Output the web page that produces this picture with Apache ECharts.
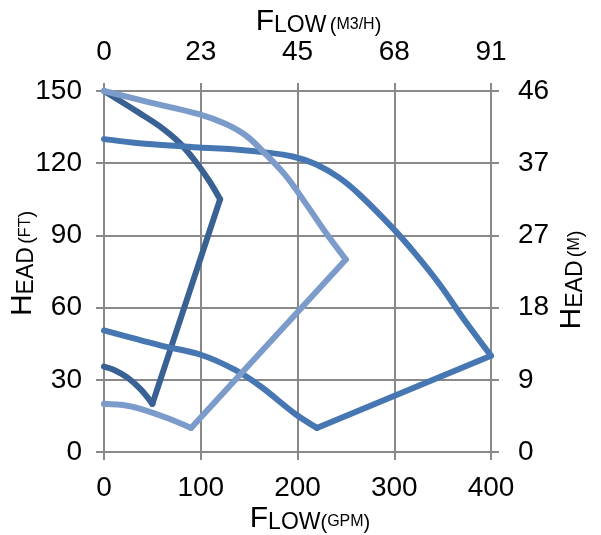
<!DOCTYPE html>
<html><head><meta charset="utf-8">
<script src="https://cdn.jsdelivr.net/npm/echarts@6/dist/echarts.min.js"></script>
<style>html,body{margin:0;padding:0;background:#fff}#c{width:601px;height:535px}</style>
</head><body><div id="c"></div>
<script>
// Tick labels
const gpmTicks = ['0', '100', '200', '300', '400'];
const m3hTicks = ['0', '23', '45', '68', '91'];
const ftTicks = ['0', '30', '60', '90', '120', '150'];
const mTicks = ['0', '9', '18', '27', '37', '46'];

// Pump 1 (dark)
const darkUpper = [[0,150],[36,141],[57,135.5],[78,128.5],[95,120.5],[109,112.5],[120,105]];
const darkConnector = [[120,105],[50,20]];
const darkLower = [[50,20],[38,26],[24,31],[10,34.2],[0,35.5]];

// Pump 2 (medium)
const medUpper = [[0,130],[29,128.6],[64,127.5],[98,126.5],[133,125.8],[167,124.5],[195,122.8],[219,119.6],[243,114],[264,107],[298.5,93],[322.5,82],[347,69.6],[371,55.7],[400,40]];
const medConnector = [[400,40],[220,10]];
const medLower = [[220,10],[197,16],[162,27.2],[135,34.2],[100,40.4],[59,44.2],[0,50.5]];

// Pump 3 (light)
const lightUpper = [[0,150],[47,145.3],[98,140.4],[126,136.3],[147,131.4],[167,123.8],[188,114.7],[209,103],[229.5,91],[250,80]];
const lightConnector = [[250,80],[90,10]];
const lightLower = [[90,10],[66,14],[41,17.5],[24,19.2],[0,20]];

const FONT = '"Liberation Sans", Arial, sans-serif';
const GRID = '#898989';
const DARK = '#3A6194', MED = '#4677B3', LIGHT = '#7B9BCB';

const rich = {
  b: {fontSize: 30, lineHeight: 30, verticalAlign: 'bottom', fontFamily: FONT, color: '#000'},
  s: {fontSize: 23, verticalAlign: 'bottom', fontFamily: FONT, color: '#000'},
  p: {fontSize: 20, verticalAlign: 'bottom', fontFamily: FONT, color: '#000', padding: [0, 0, 1, 0]},
  t: {fontSize: 16, verticalAlign: 'bottom', fontFamily: FONT, color: '#000', padding: [0, 0, 4, 0]}
};

function axisBase(extra) {
  return Object.assign({
    type: 'value',
    axisLine: {show: true, onZero: false, lineStyle: {color: GRID, width: 2}},
    axisTick: {show: true, length: 8, lineStyle: {color: GRID, width: 2}},
    splitLine: {show: false},
    nameLocation: 'middle',
    nameMoveOverlap: false
  }, extra);
}
function labelStyle(arr, step, margin) {
  return {
    margin: margin, fontSize: 28, color: '#000', fontFamily: FONT,
    showMinLabel: true, showMaxLabel: true,
    formatter: v => arr[Math.round(v / step)]
  };
}

function seg(data, color, smooth) {
  return {
    type: 'line', data: data, smooth: smooth ? 0.35 : false,
    symbol: 'none', silent: true, animation: false,
    lineStyle: {color: color, width: 6, cap: 'round', join: 'round'}
  };
}

const chart = echarts.init(document.getElementById('c'), null, {renderer: 'canvas'});
chart.setOption({
  backgroundColor: '#fff',
  animation: false,
  grid: {left: 104, right: 110, top: 91, bottom: 83, containLabel: false, outerBoundsMode: 'none'},
  xAxis: [
    axisBase({
      position: 'bottom', min: 0, max: 400, interval: 100,
      axisLabel: labelStyle(gpmTicks, 100, 22),
      splitLine: {show: true, lineStyle: {color: GRID, width: 2}},
      name: '{b|F}{s|LOW}{p|(}{t|GPM}{p|)}', nameGap: 52,
      nameTextStyle: {fontFamily: FONT, color: '#000', padding: [0, 0, 0, 25], rich: rich}
    }),
    axisBase({
      position: 'top', min: 0, max: 400, interval: 100,
      axisLabel: labelStyle(m3hTicks, 100, 25),
      name: '{b|F}{s|LOW} {p|(}{t|M3/H}{p|)}', nameGap: 54,
      nameTextStyle: {fontFamily: FONT, color: '#000', padding: [0, 0, 0, 42], rich: rich}
    })
  ],
  yAxis: [
    axisBase({
      position: 'left', min: 0, max: 150, interval: 30,
      axisLabel: labelStyle(ftTicks, 30, 22),
      splitLine: {show: true, lineStyle: {color: GRID, width: 2}},
      name: '{b|H}{s|EAD} {p|(}{t|FT}{p|)}', nameGap: 66,
      nameTextStyle: {fontFamily: FONT, color: '#000', padding: [0, 0, 0, 16], rich: rich}
    }),
    axisBase({
      position: 'right', min: 0, max: 150, interval: 30,
      axisLabel: labelStyle(mTicks, 30, 27),
      name: '{b|H}{s|EAD} {p|(}{t|M}{p|)}', nameGap: 66,
      nameTextStyle: {fontFamily: FONT, color: '#000', padding: [0, 17, 0, 0], rich: rich}
    })
  ],
  series: [
    seg(darkUpper, DARK, true), seg(darkConnector, DARK, false), seg(darkLower, DARK, true),
    seg(medUpper, MED, true), seg(medConnector, MED, false), seg(medLower, MED, true),
    seg(lightUpper, LIGHT, true), seg(lightConnector, LIGHT, false), seg(lightLower, LIGHT, true)
  ]
});
</script></body></html>
